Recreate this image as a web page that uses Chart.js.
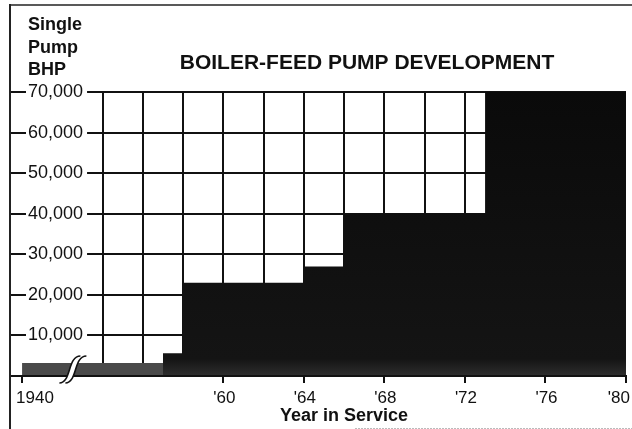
<!DOCTYPE html>
<html>
<head>
<meta charset="utf-8">
<script src="https://cdn.jsdelivr.net/npm/chart.js@4/dist/chart.umd.min.js"></script>
<style>
  html, body { margin: 0; padding: 0; background: #fff; }
  #wrap { width: 632px; height: 429px; }
  canvas { display: block; }
</style>
</head>
<body>
<div id="wrap"><canvas id="c" width="632" height="429"></canvas></div>
<script>
// ---- data ----
const years = [1940, 1957, 1958, 1964, 1966, 1973, 1980];
const pumpBHP = [3200, 5600, 23000, 27000, 40000, 70000, 70000];
const yTickValues = [10000, 20000, 30000, 40000, 50000, 60000, 70000];
const xTickYears = [1940, 1960, 1964, 1968, 1972, 1976, 1980];
const xTickLabels = ['1940', "'60", "'64", "'68", "'72", "'76", "'80"];
const gridYears = [1954, 1956, 1958, 1960, 1962, 1964, 1966, 1968, 1970, 1972];
const titleText = 'BOILER-FEED PUMP DEVELOPMENT';
const yTitleLines = ['Single', 'Pump', 'BHP'];
const xTitleText = 'Year in Service';

// axis break: years before 1950 are drawn 10 years to the right
const BREAK_SHIFT = 10;
const BREAK_AT = 1952.5;
const toAxis = y => (y < 1950 ? y + BREAK_SHIFT : y);

const INK = '#111111';
const GREY = '#4a4a4a';
const FONT = "'Liberation Sans', Arial, Helvetica, sans-serif";

let gradCache = null, gradKey = '';
function darkFill(ctx) {
  const chart = ctx.chart;
  const a = chart.chartArea;
  if (!a) return '#0d0d0d';
  const key = a.top + '_' + a.bottom;
  if (gradCache && gradKey === key) return gradCache;
  const g = chart.ctx.createLinearGradient(0, a.top, 0, a.bottom);
  g.addColorStop(0, '#0a0a0a');
  g.addColorStop(0.94, '#141414');
  g.addColorStop(1, '#2e2e2e');
  gradCache = g; gradKey = key;
  return g;
}

const framePlugin = {
  id: 'frame',
  beforeDraw(chart) {
    const c = chart.ctx;
    c.save();
    c.fillStyle = '#fff';
    c.fillRect(0, 0, chart.width, chart.height);
    c.restore();
  },
  afterDraw(chart) {
    const c = chart.ctx;
    const xs = chart.scales.x, ys = chart.scales.y;
    const a = chart.chartArea;
    c.save();
    // frame
    c.strokeStyle = '#222';
    c.lineWidth = 1.5;
    c.beginPath(); c.moveTo(10, 5); c.lineTo(chart.width, 5); c.stroke();
    c.lineWidth = 2;
    c.beginPath(); c.moveTo(10, 4); c.lineTo(10, chart.height); c.stroke();
    c.strokeStyle = '#bbb';
    c.lineWidth = 1;
    c.setLineDash([2, 1]);
    c.beginPath(); c.moveTo(355, 428.5); c.lineTo(chart.width, 428.5); c.stroke();
    c.setLineDash([]);

    // axis break symbol
    const cx = xs.getPixelForValue(BREAK_AT);
    const t = ys.getPixelForValue(pumpBHP[0]) - 7;
    const b = a.bottom + 7;
    const curve = (dx, reverse) => {
      if (!reverse) {
        c.moveTo(cx - 13 + dx, b);
        c.bezierCurveTo(cx - 1 + dx, b, cx - 5 + dx, t, cx + 8 + dx, t);
      } else {
        c.lineTo(cx + 8 + dx, t);
        c.bezierCurveTo(cx - 5 + dx, t, cx - 1 + dx, b, cx - 13 + dx, b);
      }
    };
    c.fillStyle = '#fff';
    c.beginPath(); curve(0, false); curve(6, true); c.closePath(); c.fill();
    c.strokeStyle = INK; c.lineWidth = 1.6;
    c.beginPath(); curve(0, false); c.stroke();
    c.beginPath(); curve(6, false); c.stroke();

    // x tick labels
    c.fillStyle = INK;
    c.font = '17px ' + FONT;
    c.textBaseline = 'alphabetic';
    xTickYears.forEach((yr, i) => {
      const px = xs.getPixelForValue(toAxis(yr));
      if (i === 0) { c.textAlign = 'left'; c.fillText(xTickLabels[i], px - 6, 403); }
      else if (i === xTickYears.length - 1) { c.textAlign = 'right'; c.fillText(xTickLabels[i], px + 4, 403); }
      else { c.textAlign = 'center'; c.fillText(xTickLabels[i], px + 1, 403); }
    });

    // titles
    c.font = 'bold 18px ' + FONT;
    c.textAlign = 'center';
    c.fillText(xTitleText, 344, 421);
    c.textAlign = 'left';
    yTitleLines.forEach((s, i) => c.fillText(s, 28, 30 + i * 22.5));
    c.font = 'bold 21px ' + FONT;
    c.textAlign = 'center';
    c.fillText(titleText, 367, 69);
    c.restore();
  }
};

const points = years.map((yr, i) => ({ x: toAxis(yr), y: pumpBHP[i] }));

new Chart(document.getElementById('c'), {
  type: 'line',
  data: {
    datasets: [{
      data: points,
      stepped: true,
      fill: 'origin',
      borderWidth: 0,
      pointRadius: 0,
      backgroundColor: darkFill,
      segment: {
        backgroundColor: ctx => (ctx.p0DataIndex === 0 ? GREY : darkFill(ctx))
      }
    }]
  },
  options: {
    responsive: false,
    animation: false,
    events: [],
    layout: { padding: { left: 10, right: 6, top: 92, bottom: 0 }, autoPadding: false },
    plugins: { legend: { display: false }, tooltip: { enabled: false }, title: { display: false } },
    scales: {
      x: {
        type: 'linear',
        position: 'bottom',
        min: 1949.4,
        max: 1980,
        afterBuildTicks: s => { s.ticks = xTickYears.map(v => ({ value: toAxis(v) })); },
        afterFit: s => { s.height = 53; },
        ticks: { display: false },
        grid: { drawOnChartArea: false, drawTicks: true, tickLength: 7, color: INK, lineWidth: 2 },
        border: { display: true, color: INK, width: 2, z: 1 }
      },
      xgrid: {
        type: 'linear',
        position: 'bottom',
        min: 1949.4,
        max: 1980,
        afterBuildTicks: s => { s.ticks = gridYears.map(v => ({ value: v })); },
        afterFit: s => { s.height = 0; },
        ticks: { display: false },
        grid: { drawOnChartArea: true, drawTicks: false, color: INK, lineWidth: 2 },
        border: { display: false }
      },
      y: {
        type: 'linear',
        position: 'left',
        min: 0,
        max: 70000,
        afterBuildTicks: s => { s.ticks = yTickValues.map(v => ({ value: v })); },
        afterFit: s => { s.width = 0; },
        ticks: {
          mirror: true,
          padding: 18,
          z: 1,
          color: INK,
          font: { size: 18, family: FONT },
          callback: v => v.toLocaleString('en-US'),
          showLabelBackdrop: true,
          backdropColor: '#ffffff',
          backdropPadding: { top: 0, bottom: 0, left: 2, right: 4 }
        },
        grid: { drawTicks: false, color: INK, lineWidth: 2 },
        border: { display: false }
      }
    }
  },
  plugins: [framePlugin]
});
</script>
</body>
</html>
